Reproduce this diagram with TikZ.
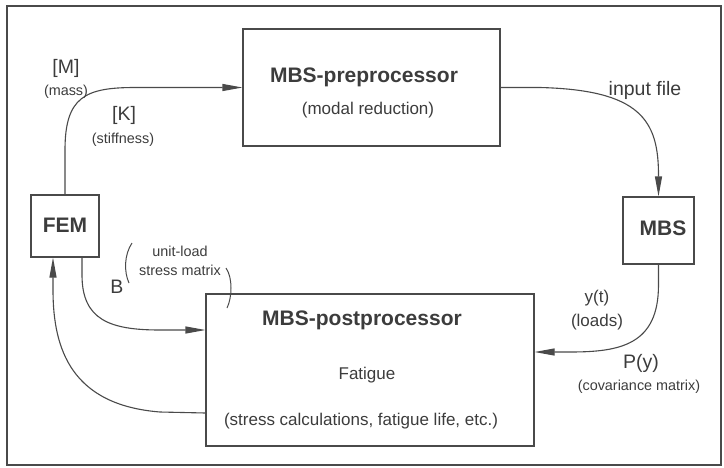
\documentclass[tikz,border=0pt]{standalone}
\usepackage{fontspec}
\setmainfont{Liberation Sans}
\usetikzlibrary{arrows.meta}
\definecolor{ink}{HTML}{3C3C3C}
\definecolor{wire}{HTML}{4A4A4A}
\tikzset{
  block/.style={draw=wire, line width=1.1pt, rectangle, inner sep=0pt},
  title/.style={text=ink, inner sep=0pt, font=\fontsize{21}{25}\selectfont\bfseries},
  body/.style={text=ink, inner sep=0pt, font=\fontsize{17}{20}\selectfont},
  tag/.style={text=ink, inner sep=0pt, font=\fontsize{19.5}{23}\selectfont},
  note/.style={text=ink, inner sep=0pt, font=\fontsize{14.4}{17}\selectfont},
  flow/.style={draw=wire, line width=1.1pt, -{Triangle[length=20pt,width=7pt]}},
  brace/.style={draw=wire, line width=1pt}
}
\begin{document}
\begin{tikzpicture}[x=1pt,y=-1pt]
  \useasboundingbox (0,0) rectangle (724,467);
  % outer frame
  \draw[wire, line width=1.3pt] (7,6) rectangle (721,465);

  % blocks
  \node[block, minimum width=257pt, minimum height=117pt] (pre)  at (371.5,87.5) {};
  \node[block, minimum width=68pt,  minimum height=62pt]  (fem)  at (65,226) {};
  \node[block, minimum width=71pt,  minimum height=67pt]  (mbs)  at (658.5,230.5) {};
  \node[block, minimum width=328pt, minimum height=152pt] (post) at (370,370) {};

  % block texts
  \node[title] (preT) at (364,77) {MBS-preprocessor};
  \node[body]  (preS) at (368,110) {(modal reduction)};
  \node[title] (femT) at (65,225) {FEM};
  \node[title] (mbsT) at (663,228) {MBS};
  \node[title] (postT) at (362,320) {MBS-postprocessor};
  \node[body]  (postF) at (367,375) {Fatigue};
  \node[body]  (postS) at (361,421) {(stress calculations, fatigue life, etc.)};

  % connectors
  \draw[flow] (fem.north) -- (65,150) .. controls (65,97) and (85,87.5) .. (135,87.5) -- (pre.west);
  \draw[flow] (pre.east) -- (540,87.5) .. controls (640,90) and (658.5,120) .. (658.5,175) -- (mbs.north);
  \draw[flow] (mbs.south) -- (658.5,285) .. controls (658.5,345) and (620,352) .. (570,352) -- ([yshift=18pt]post.east);
  \draw[flow] ([xshift=17pt]fem.south) -- (82,275) .. controls (82,320) and (110,330) .. (160,330) -- ([yshift=40pt]post.west);
  \draw[flow] ([yshift=-43pt]post.west) -- (160,412) .. controls (72,405) and (53,350) .. (53,290) -- ([xshift=-12pt]fem.south);

  % connector labels
  \node[tag]  (lM)    at (66,68)  {[M]};
  \node[note] (lmass) at (66,92)  {(mass)};
  \node[tag]  (lK)    at (124,115) {[K]};
  \node[note] (lstif) at (123,140) {(stiffness)};
  \node[tag]  (lin)   at (645,90) {input file};
  \node[tag]  (lB)    at (117,287) {B};
  \node[note] (lunit) at (180,251) {unit-load};
  \node[note] (lstr)  at (180,270) {stress matrix};
  \node[body] (ly)    at (597,298) {y(t)};
  \node[body] (lload) at (597,322) {(loads)};
  \node[tag]  (lP)    at (641,363) {P(y)};
  \node[note] (lcov)  at (639,387) {(covariance matrix)};

  % bracket around the unit-load note
  \draw[brace] (132,243) .. controls (124,255) and (124,272) .. (129,283);
  \draw[brace] (226,268) .. controls (233,278) and (232,298) .. (227,308);
\end{tikzpicture}
\end{document}
